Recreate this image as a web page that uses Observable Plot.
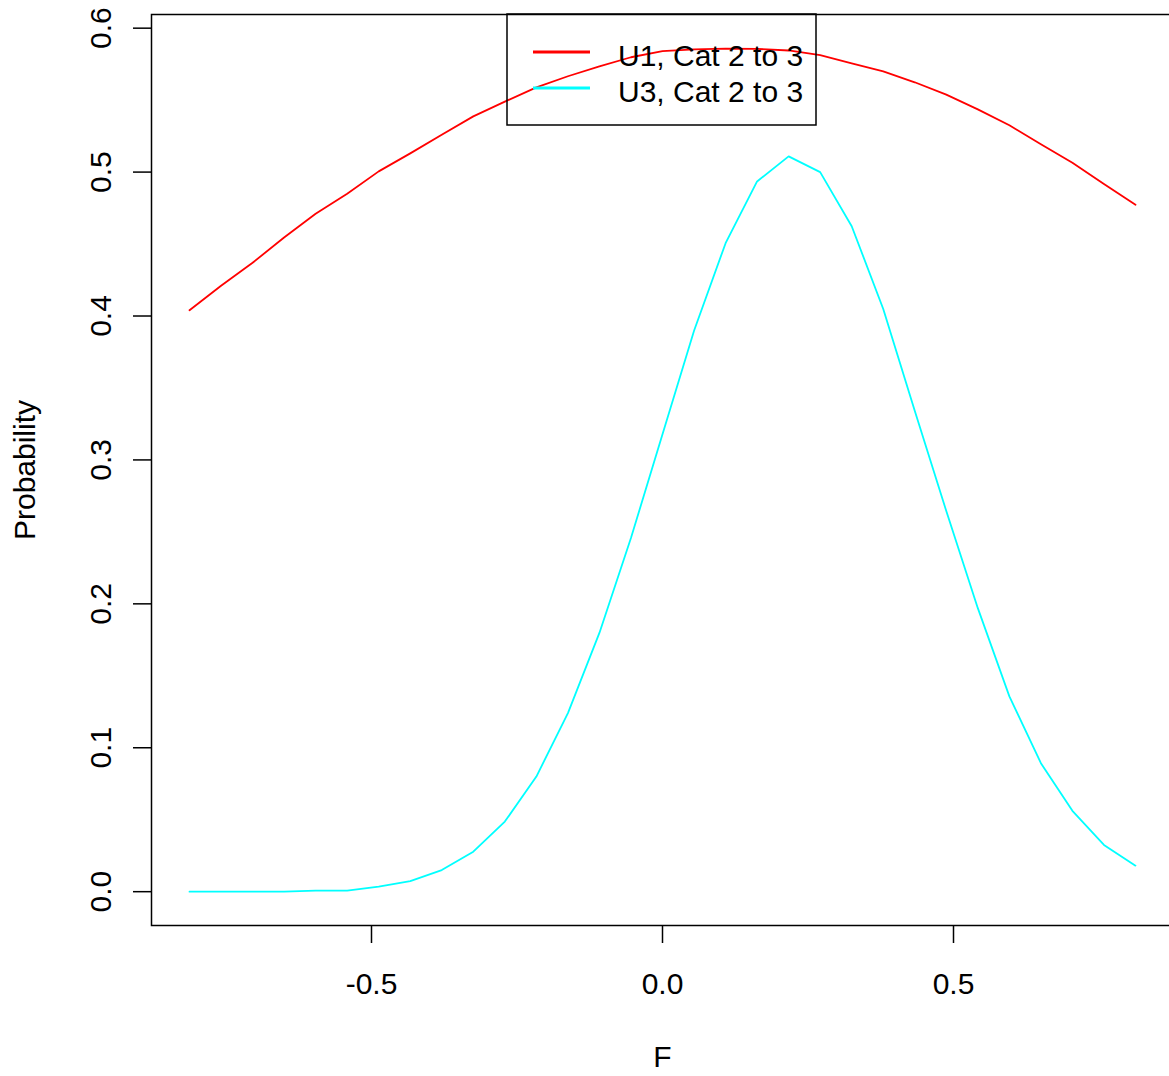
<!DOCTYPE html>
<html>
<head>
<meta charset="utf-8">
<script src="https://cdn.jsdelivr.net/npm/d3@7"></script>
<script src="https://cdn.jsdelivr.net/npm/@observablehq/plot@0.6"></script>
<style>
  html, body { margin: 0; padding: 0; background: #fff; }
  #wrap { position: relative; width: 1169px; height: 1076px; overflow: hidden; font-family: "Liberation Sans", Arial, sans-serif; }
  #legend { position: absolute; left: 0; top: 0; pointer-events: none; }
</style>
</head>
<body>
<div id="wrap"></div>
<script>
// Data
const F = [-0.8127, -0.7585, -0.7043, -0.6502, -0.5960, -0.5418, -0.4876, -0.4334, -0.3793, -0.3251,
           -0.2709, -0.2167, -0.1625, -0.1084, -0.0542, 0.0000, 0.0542, 0.1084, 0.1625, 0.2167,
           0.2709, 0.3251, 0.3793, 0.4334, 0.4876, 0.5418, 0.5960, 0.6502, 0.7043, 0.7585, 0.8127];
const U1 = [0.404, 0.421, 0.437, 0.4545, 0.471, 0.485, 0.5005, 0.513, 0.526, 0.5387,
            0.549, 0.5589, 0.5666, 0.5735, 0.5798, 0.584, 0.5853, 0.5858, 0.5856, 0.5845,
            0.5812, 0.5756, 0.570, 0.5624, 0.5538, 0.5436, 0.5325, 0.5193, 0.5065, 0.4918, 0.4773];
const U3 = [0.0000, 0.0000, 0.0000, 0.0001, 0.0008, 0.0008, 0.0035, 0.0074, 0.0150, 0.0278,
            0.0487, 0.0800, 0.1241, 0.1798, 0.2457, 0.3179, 0.3898, 0.4506, 0.4935, 0.5109,
            0.5000, 0.4624, 0.4049, 0.3341, 0.2645, 0.1970, 0.1357, 0.0893, 0.0562, 0.0325, 0.0181];
const seriesNames = ["U1, Cat 2 to 3", "U3, Cat 2 to 3"];
const seriesColors = ["#ff0000", "#00ffff"];
const xTicks = [-0.5, 0.0, 0.5];
const yTicks = [0.0, 0.1, 0.2, 0.3, 0.4, 0.5, 0.6];
const xLabel = "F";
const yLabel = "Probability";

const rows1 = F.map((f, i) => ({F: f, p: U1[i]}));
const rows3 = F.map((f, i) => ({F: f, p: U3[i]}));

const fmt = d => d.toFixed(1);
const chart = Plot.plot({
  width: 1169,
  height: 1076,
  marginLeft: 151,
  marginRight: -4,
  marginTop: 14,
  marginBottom: 151,
  style: {fontFamily: "'Liberation Sans', Arial, sans-serif", background: "#fff"},
  x: {domain: [-0.878, 0.878]},
  y: {domain: [-0.0235, 0.6095]},
  marks: [
    Plot.axisX(xTicks, {tickSize: 18, tickPadding: 29, fontSize: 30, tickFormat: fmt, stroke: "#000", strokeWidth: 1.5, color: "#000", label: null}),
    Plot.axisY(yTicks, {tickSize: 18, tickPadding: 23, fontSize: 30, tickRotate: -90, tickFormat: fmt, stroke: "#000", strokeWidth: 1.5, color: "#000", label: null}),
    Plot.frame({stroke: "#000", strokeWidth: 1.5}),
    Plot.line(rows1, {x: "F", y: "p", stroke: seriesColors[0], strokeWidth: 1.8}),
    Plot.line(rows3, {x: "F", y: "p", stroke: seriesColors[1], strokeWidth: 1.8}),
    Plot.text([xLabel], {frameAnchor: "bottom", dy: 132, fontSize: 30, fill: "#000", lineAnchor: "middle", textAnchor: "middle"}),
    Plot.text([yLabel], {frameAnchor: "left", dx: -126, rotate: -90, fontSize: 30, fill: "#000", lineAnchor: "middle", textAnchor: "middle"})
  ]
});
const wrap = document.getElementById("wrap");
wrap.appendChild(chart);

// Legend overlay (R-style boxed legend)
const ns = "http://www.w3.org/2000/svg";
const lg = document.createElementNS(ns, "svg");
lg.setAttribute("id", "legend");
lg.setAttribute("width", 1169);
lg.setAttribute("height", 200);
const box = document.createElementNS(ns, "rect");
box.setAttribute("x", 507); box.setAttribute("y", 14);
box.setAttribute("width", 309); box.setAttribute("height", 111);
box.setAttribute("fill", "none"); box.setAttribute("stroke", "#000"); box.setAttribute("stroke-width", 1.5);
lg.appendChild(box);
const rowY = [52, 88];
seriesNames.forEach((name, i) => {
  const ln = document.createElementNS(ns, "line");
  ln.setAttribute("x1", 533); ln.setAttribute("x2", 590);
  ln.setAttribute("y1", rowY[i]); ln.setAttribute("y2", rowY[i]);
  ln.setAttribute("stroke", seriesColors[i]); ln.setAttribute("stroke-width", 3.2);
  lg.appendChild(ln);
  const tx = document.createElementNS(ns, "text");
  tx.setAttribute("x", 618); tx.setAttribute("y", rowY[i] + 14);
  tx.setAttribute("font-size", 30);
  tx.setAttribute("font-family", "'Liberation Sans', Arial, sans-serif");
  tx.setAttribute("fill", "#000");
  tx.textContent = name;
  lg.appendChild(tx);
});
wrap.appendChild(lg);
</script>
</body>
</html>
